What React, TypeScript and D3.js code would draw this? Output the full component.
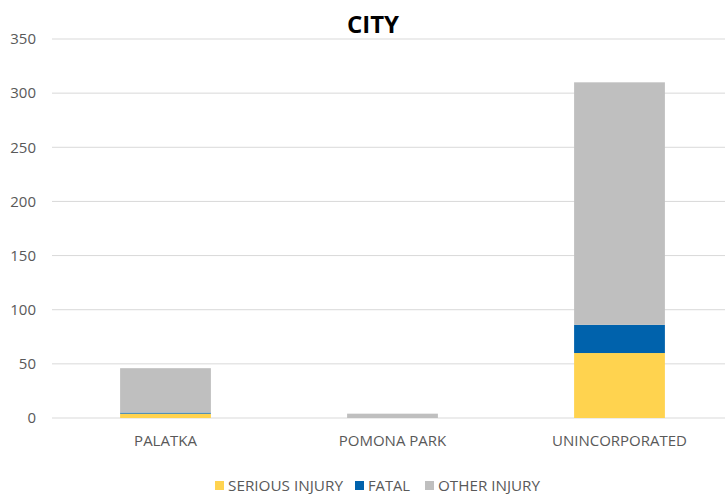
import { useEffect, useRef } from "react";
import * as d3 from "d3";

const cities = ["PALATKA", "POMONA PARK", "UNINCORPORATED"];
const seriousInjury = [4, 0, 60];
const fatal = [1, 0, 26];
const otherInjury = [41, 4, 224];
const yTicks = [0, 50, 100, 150, 200, 250, 300, 350];
const seriesNames = ["SERIOUS INJURY", "FATAL", "OTHER INJURY"];
const seriesColors = ["#FFD34F", "#0062AC", "#BFBFBF"];

const W = 725;
const H = 494;
const FONT = "'Open Sans', 'Noto Sans', sans-serif";

export default function App() {
  const svgRef = useRef<SVGSVGElement>(null);

  useEffect(() => {
    if (!svgRef.current) return;
    const svg = d3.select(svgRef.current);
    svg.selectAll("*").remove();

    const left = 52;
    const top = 39;
    const bottom = 418;

    const x = d3
      .scaleBand<string>()
      .domain(cities)
      .range([left, 733])
      .paddingInner(0.6)
      .paddingOuter(0.3);
    const y = d3.scaleLinear().domain([0, 350]).range([bottom, top]);

    // gridlines
    yTicks.forEach((t) => {
      svg
        .append("line")
        .attr("x1", left)
        .attr("x2", W)
        .attr("y1", y(t))
        .attr("y2", y(t))
        .attr("stroke", "#D9D9D9")
        .attr("stroke-width", 1);
      svg
        .append("text")
        .attr("x", 36)
        .attr("y", y(t))
        .attr("dy", "0.35em")
        .attr("text-anchor", "end")
        .attr("fill", "#595959")
        .attr("font-family", FONT)
        .attr("font-size", "15px")
        .text(t.toString());
    });

    // stacked bars
    const rows = cities.map((c, i) => ({
      city: c,
      s0: seriousInjury[i],
      s1: fatal[i],
      s2: otherInjury[i],
    }));
    const stack = d3.stack<any>().keys(["s0", "s1", "s2"]);
    const layers = stack(rows);

    layers.forEach((layer, li) => {
      layer.forEach((d) => {
        const h = y(d[0]) - y(d[1]);
        if (h <= 0) return;
        svg
          .append("rect")
          .attr("x", x(d.data.city)!)
          .attr("width", x.bandwidth())
          .attr("y", y(d[1]))
          .attr("height", h)
          .attr("fill", seriesColors[li]);
      });
    });

    // category labels
    cities.forEach((c) => {
      svg
        .append("text")
        .attr("x", x(c)! + x.bandwidth() / 2)
        .attr("y", 446)
        .attr("text-anchor", "middle")
        .attr("fill", "#595959")
        .attr("font-family", FONT)
        .attr("font-size", "15px")
        .text(c);
    });

    // title
    svg
      .append("text")
      .attr("x", 373)
      .attr("y", 33)
      .attr("text-anchor", "middle")
      .attr("fill", "#000")
      .attr("font-family", FONT)
      .attr("font-weight", "bold")
      .attr("font-size", "24px")
      .text("CITY");

    // legend
    const legendX = [215, 355, 425];
    seriesNames.forEach((name, i) => {
      svg
        .append("rect")
        .attr("x", legendX[i])
        .attr("y", 481)
        .attr("width", 9)
        .attr("height", 9)
        .attr("fill", seriesColors[i]);
      svg
        .append("text")
        .attr("x", legendX[i] + 13)
        .attr("y", 491)
        .attr("fill", "#595959")
        .attr("font-family", FONT)
        .attr("font-size", "15px")
        .attr("textLength", [115, 42, 102][i])
        .attr("lengthAdjust", "spacingAndGlyphs")
        .text(name);
    });
  }, []);

  return (
    <svg
      ref={svgRef}
      width={W}
      height={H}
      style={{ position: "absolute", left: 0, top: 0, background: "#fff" }}
    />
  );
}
